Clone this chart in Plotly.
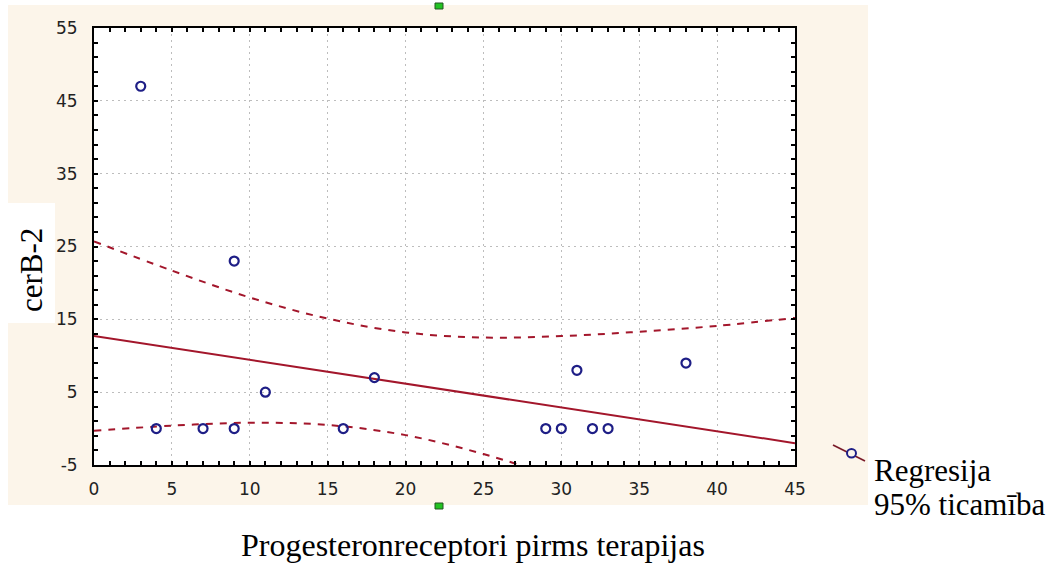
import plotly.graph_objects as go

# Observations: progesterone receptors before therapy vs cerB-2
prog_receptors = [3, 4, 7, 9, 9, 11, 16, 18, 29, 30, 31, 32, 33, 38]
cerb2 = [47, 0, 0, 0, 23, 5, 0, 7, 0, 0, 8, 0, 0, 9]

# Fitted regression line (end points)
fit_x = [0, 45]
fit_y = [12.7, -2.0]

# 95% confidence band
band_x = [0, 5, 10, 15, 20, 25, 30, 35, 40, 45]
band_upper = [25.7, 21.7, 18.0, 15.1, 13.2, 12.5, 12.7, 13.3, 14.1, 15.2]
band_lower = [-0.3, 0.4, 0.8, 0.5, -0.9, -3.5, -6.9, -10.8, -14.9, -19.2]

x_ticks = [0, 5, 10, 15, 20, 25, 30, 35, 40, 45]
y_ticks = [-5, 5, 15, 25, 35, 45, 55]
y_tick_text = ["-5", "5", "15", "25", "35", "45", "55"]

W, H = 1052, 564
L, R, T, B = 94, 257, 28, 99
PW, PH = W - L - R, H - T - B


def px(xpix):
    return (xpix - L) / PW


def py(ypix):
    return (H - B - ypix) / PH


RED = "#a3162b"
NAVY = "#1e1e86"
BEIGE = "#fcf5ea"

fig = go.Figure()

fig.add_trace(go.Scatter(
    x=band_x, y=band_upper, mode="lines", line_shape="spline",
    line=dict(color=RED, width=2, dash="7px,7px"), showlegend=False,
    hoverinfo="skip"))
fig.add_trace(go.Scatter(
    x=band_x, y=band_lower, mode="lines", line_shape="spline",
    line=dict(color=RED, width=2, dash="7px,7px"), showlegend=False,
    hoverinfo="skip"))
fig.add_trace(go.Scatter(
    x=fit_x, y=fit_y, mode="lines",
    line=dict(color=RED, width=2), showlegend=False))
fig.add_trace(go.Scatter(
    x=prog_receptors, y=cerb2, mode="markers",
    marker=dict(symbol="circle-open", size=9, color=NAVY,
                line=dict(width=2.2, color=NAVY)),
    showlegend=False, cliponaxis=False))

shapes = [
    # beige panel with the white plotting area on top
    dict(type="rect", xref="paper", yref="paper", layer="below",
         x0=px(8), x1=px(868), y0=py(505), y1=py(5),
         fillcolor=BEIGE, line=dict(width=0)),
    dict(type="rect", xref="paper", yref="paper", layer="below",
         x0=0, x1=1, y0=0, y1=1, fillcolor="white", line=dict(width=0)),
    # white box behind the y title
    dict(type="rect", xref="paper", yref="paper", layer="above",
         x0=px(0), x1=px(55), y0=py(323), y1=py(203),
         fillcolor="white", line=dict(width=0)),
    # selection handles
    dict(type="rect", xref="paper", yref="paper", layer="above",
         x0=px(435), x1=px(443), y0=py(9), y1=py(3),
         fillcolor="#22c322", line=dict(width=1, color="#225522")),
    dict(type="rect", xref="paper", yref="paper", layer="above",
         x0=px(435), x1=px(443), y0=py(509), y1=py(503),
         fillcolor="#22c322", line=dict(width=1, color="#225522")),
    # legend key: line with a circle marker
    dict(type="line", xref="paper", yref="paper", layer="above",
         x0=px(833), y0=py(445), x1=px(865), y1=py(461),
         line=dict(color="#7a1a28", width=1.8)),
    dict(type="circle", xref="paper", yref="paper", layer="above",
         x0=px(847), x1=px(856), y0=py(457.5), y1=py(449),
         fillcolor=BEIGE, line=dict(color=NAVY, width=2)),
]

serif = dict(family="Liberation Serif, Times New Roman, serif", size=31,
             color="black")

annotations = [
    dict(text="cerB-2", xref="paper", yref="paper", x=px(31), y=py(270),
         xanchor="center", yanchor="middle", textangle=-90,
         showarrow=False, font=serif),
    dict(text="Regresija", xref="paper", yref="paper", x=px(872), y=py(470),
         xanchor="left", yanchor="middle", showarrow=False, font=serif),
    dict(text="95% ticamība", xref="paper", yref="paper", x=px(872),
         y=py(505), xanchor="left", yanchor="middle", showarrow=False,
         font=serif),
    dict(text="Progesteronreceptori pirms terapijas", xref="paper",
         yref="paper", x=px(473), y=py(545), xanchor="center",
         yanchor="middle", showarrow=False,
         font=dict(serif, size=32)),
]

tick_font = dict(family="DejaVu Sans, sans-serif", size=17, color="#222222")

axis_common = dict(
    showline=True, linecolor="black", linewidth=2, mirror="allticks",
    ticks="inside", ticklen=4, tickwidth=2, tickcolor="black",
    showgrid=True, gridcolor="#bdbdbd", gridwidth=1, griddash="2px,4px",
    zeroline=False, tickfont=tick_font,
)

fig.update_layout(
    width=W, height=H,
    margin=dict(l=L, r=R, t=T, b=B),
    paper_bgcolor="white", plot_bgcolor="rgba(0,0,0,0)",
    shapes=shapes, annotations=annotations,
    xaxis=dict(range=[0, 45], tickvals=x_ticks, ticklabelstandoff=8,
               minor=dict(dtick=1, tick0=0, ticks="inside", ticklen=4,
                          tickwidth=2, tickcolor="black", showgrid=False),
               **axis_common),
    yaxis=dict(range=[-5, 55], tickvals=y_ticks, ticktext=y_tick_text,
               ticklabelstandoff=11,
               minor=dict(dtick=2, tick0=-5, ticks="inside", ticklen=4,
                          tickwidth=2, tickcolor="black", showgrid=False),
               **axis_common),
)

fig.write_html("out.html")
